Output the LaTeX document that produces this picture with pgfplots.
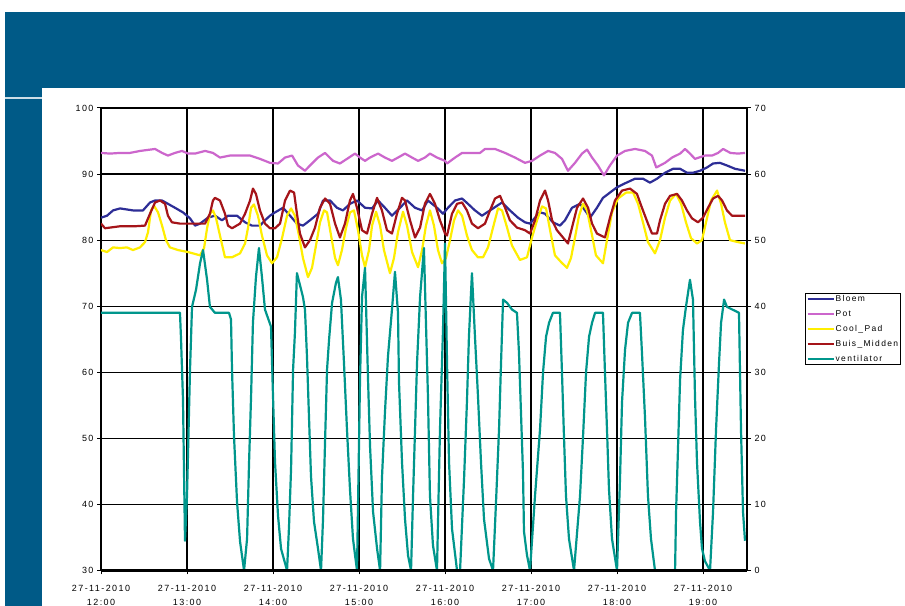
\documentclass[border=0pt]{standalone}
\usepackage{fontspec}
\setmainfont{Liberation Sans}
\newfontfamily\lsans[LetterSpace=16]{Liberation Sans}
\usepackage{pgfplots}
\pgfplotsset{compat=1.18}
\definecolor{band}{RGB}{0,90,135}
\definecolor{cBloem}{RGB}{45,45,150}
\definecolor{cPot}{RGB}{204,102,204}
\definecolor{cPad}{RGB}{255,238,0}
\definecolor{cBuis}{RGB}{165,20,25}
\definecolor{cVent}{RGB}{0,150,140}
\newcommand\ticklab{\lsans\fontsize{9}{14}\selectfont}
\newcommand\leglab{\lsans\fontsize{8.5}{9}\selectfont}
\begin{document}
\begin{tikzpicture}[x=1bp,y=1bp]
\useasboundingbox (0,0) rectangle (905,606);
\fill[white] (0,0) rectangle (905,606);
\fill[band] (5,518) rectangle (905,594);
\fill[band] (5,0) rectangle (42,518);
\draw[white!80!band, line width=1.5bp] (5,508) -- (42,508);
\begin{axis}[
  at={(101bp,35.5bp)}, anchor=south west,
  scale only axis, width=646bp, height=462.5bp,
  xmin=0, xmax=450.7, ymin=30, ymax=100,
  xtick={0,60,...,420},
  xticklabels={{27-11-2010\\12:00},{27-11-2010\\13:00},{27-11-2010\\14:00},{27-11-2010\\15:00},{27-11-2010\\16:00},{27-11-2010\\17:00},{27-11-2010\\18:00},{27-11-2010\\19:00}},
  xticklabel style={align=center, font=\ticklab, yshift=-7bp},
  ytick={30,40,...,100},
  yticklabel style={font=\ticklab},
  /pgf/number format/assume math mode=true,
  grid=major, major grid style={black, line width=1.2bp},
  axis line style={black, line width=1.2bp},
  tick style={black, line width=1bp},
  tick align=outside, major tick length=4bp,
  xtick pos=bottom, ytick pos=left,
  legend style={at={(1.0898,0.6)}, anchor=north west, draw=black, line width=0.8bp, fill=white,
    font=\leglab, inner xsep=1bp, inner ysep=1bp, row sep=6bp,
    nodes={inner sep=1bp, text height=6bp, text depth=1bp}},
  legend cell align=left,
  legend image code/.code={\draw[#1, line width=2.2bp] (0bp,0bp) -- (26bp,0bp);},
  every axis plot/.append style={line width=2.2bp, line join=round, mark=none},
]
\addplot[cBloem] coordinates {(0,83.4) (4.2,83.7) (8.4,84.5) (13.3,84.8) (22.3,84.5) (29.3,84.5) (34.2,85.7) (37.7,86.0) (42.6,86.0) (46.7,85.5) (51.6,84.9) (57.2,84.2) (62.1,83.3) (65.6,82.2) (69.1,82.5) (74.6,83.4) (79.5,83.7) (84.4,83.0) (88.6,83.7) (94.9,83.7) (100.5,82.7) (105.3,82.2) (110.9,82.2) (114.4,83.0) (117.9,83.7) (121.4,84.2) (127.0,84.9) (131.9,83.7) (136.7,82.5) (140.9,82.2) (145.8,83.0) (151.4,84.0) (154.9,86.0) (159.8,86.0) (164.6,84.9) (168.8,84.5) (173.7,85.5) (178.6,86.0) (184.2,84.9) (189.1,84.8) (193.3,86.0) (198.1,84.9) (203.0,83.7) (208.6,84.9) (213.5,86.0) (219.1,84.9) (224.0,84.5) (228.1,86.0) (234.4,84.9) (238.6,84.0) (242.1,84.9) (247.0,86.0) (251.9,86.3) (256.0,85.5) (260.9,84.5) (265.8,83.7) (271.4,84.5) (276.3,85.2) (279.8,85.7) (285.3,84.5) (290.9,83.4) (295.8,82.7) (299.3,82.5) (302.8,83.4) (306.3,84.2) (309.8,84.0) (315.3,82.7) (320.2,82.2) (323.7,83.0) (328.6,84.9) (334.2,85.5) (337.7,84.5) (341.2,83.4) (346.0,84.9) (350.2,86.4) (355.1,87.2) (360.0,88.0) (365.6,88.6) (372.6,89.3) (378.1,89.3) (383.0,88.7) (387.9,89.3) (393.5,90.2) (399.1,90.8) (404.0,90.8) (408.8,90.2) (413.0,90.2) (417.9,90.5) (422.8,91.0) (427.0,91.6) (431.8,91.7) (436.7,91.3) (442.3,90.8) (449.3,90.5)};
\addlegendentry{Bloem}
\addplot[cPot] coordinates {(0,93.2) (6.3,93.1) (13.3,93.2) (20.2,93.2) (27.2,93.5) (34.2,93.7) (37.7,93.8) (42.6,93.2) (46.7,92.8) (51.6,93.2) (56.5,93.5) (60.7,93.1) (65.6,93.1) (72.6,93.5) (78.1,93.2) (83.0,92.5) (90.0,92.8) (97.0,92.8) (104.0,92.8) (110.9,92.3) (117.9,91.7) (123.5,91.6) (128.4,92.5) (133.3,92.8) (137.4,91.3) (142.3,90.5) (145.8,91.3) (151.4,92.5) (156.3,93.2) (161.9,92.0) (166.7,91.6) (171.6,92.3) (177.2,93.1) (180.7,92.5) (184.2,92.0) (187.7,92.5) (193.3,93.1) (198.1,92.5) (203.0,92.0) (207.2,92.5) (212.1,93.1) (217.0,92.5) (221.2,92.0) (226.0,92.5) (229.5,93.1) (234.4,92.5) (240.0,92.0) (241.4,91.6) (247.0,92.5) (251.9,93.2) (257.4,93.2) (264.4,93.2) (267.9,93.8) (274.9,93.8) (281.9,93.2) (288.8,92.5) (295.8,91.7) (300.7,92.0) (306.3,92.8) (311.9,93.5) (316.7,93.2) (321.6,92.3) (325.8,90.5) (330.7,91.7) (335.6,93.1) (339.1,93.7) (342.6,92.5) (346.7,91.3) (350.9,89.8) (355.1,91.3) (360.0,92.8) (365.6,93.5) (372.6,93.8) (379.5,93.5) (384.4,92.8) (387.4,91.0) (393.5,91.7) (398.4,92.5) (404.0,93.1) (407.5,93.8) (410.9,93.1) (414.4,92.3) (421.4,92.8) (426.3,92.8) (430.5,93.2) (434.0,93.8) (439.1,93.2) (444.4,93.1) (449.3,93.2)};
\addlegendentry{Pot}
\addplot[cPad] coordinates {(0,78.5) (4.2,78.2) (8.4,78.9) (13.3,78.8) (18.1,78.9) (22.3,78.5) (27.2,78.9) (30.7,79.7) (32.8,81.2) (34.9,84.5) (37.0,85.2) (39.8,84.2) (42.6,82.2) (45.3,80.0) (48.1,78.9) (53.7,78.5) (60.7,78.2) (69.1,77.7) (71.9,78.8) (74.0,81.8) (76.0,84.0) (78.1,84.5) (80.2,83.4) (83.0,80.7) (86.5,77.4) (91.4,77.4) (97.0,78.0) (100.5,79.5) (102.6,81.9) (104.7,84.9) (106.7,85.4) (109.5,83.7) (112.3,80.7) (115.8,77.7) (119.3,76.5) (122.8,77.4) (126.3,80.3) (129.8,83.7) (132.6,84.8) (135.3,83.7) (138.1,80.7) (140.9,77.3) (144.4,74.4) (147.2,75.8) (150.0,79.2) (152.8,82.7) (155.6,84.5) (157.7,84.2) (160.5,80.7) (163.3,77.3) (165.3,76.2) (168.1,78.5) (170.9,81.8) (173.7,84.2) (176.5,84.5) (179.3,81.5) (182.1,77.7) (184.2,75.9) (187.0,78.5) (189.1,82.2) (191.9,84.3) (194.7,82.2) (197.4,78.5) (201.6,75.0) (204.4,77.3) (207.2,81.2) (210.7,84.3) (213.5,82.2) (217.0,78.2) (221.2,75.9) (224.0,78.5) (226.7,82.2) (229.5,84.5) (232.3,82.2) (235.1,78.5) (237.9,76.5) (240.7,77.3) (243.5,80.0) (246.3,83.0) (249.1,84.5) (251.9,83.7) (255.3,80.7) (258.8,78.5) (263.0,77.4) (266.5,77.4) (270.0,78.9) (273.5,81.9) (277.0,84.8) (279.8,84.5) (283.3,81.9) (286.7,79.2) (292.3,77.0) (297.2,77.4) (300.7,80.4) (304.2,83.0) (307.7,85.1) (310.5,84.8) (313.3,81.5) (316.7,77.7) (320.9,76.7) (325.1,75.8) (327.9,77.3) (330.7,80.4) (333.5,83.7) (336.3,85.5) (339.1,84.5) (341.9,81.5) (345.3,77.7) (350.2,76.5) (353.0,80.0) (356.5,84.2) (360.7,86.3) (366.3,87.2) (371.2,87.2) (374.7,85.5) (378.1,82.7) (381.6,79.7) (386.5,78.0) (390.0,80.0) (393.5,83.4) (397.0,86.0) (401.2,87.0) (404.7,85.5) (408.1,82.7) (411.6,80.3) (415.8,79.5) (419.3,80.0) (422.1,82.7) (425.6,86.0) (429.8,87.5) (432.6,85.5) (435.3,82.7) (438.8,80.0) (444.4,79.7) (449.3,79.5)};
\addlegendentry{Cool\_Pad}
\addplot[cBuis] coordinates {(0,82.5) (2.8,81.8) (6.3,81.9) (13.3,82.1) (23.7,82.1) (30.7,82.2) (34.2,84.0) (37.7,85.7) (41.2,86.0) (44.7,85.5) (46.7,83.7) (49.5,82.7) (55.1,82.5) (65.6,82.5) (72.6,82.5) (76.0,84.0) (78.1,86.0) (79.5,86.4) (83.0,86.0) (86.5,84.0) (88.6,82.2) (91.4,81.8) (97.0,82.5) (100.5,84.0) (104.0,86.0) (106.0,87.8) (108.1,87.0) (110.9,84.5) (114.4,82.5) (117.9,81.8) (121.4,81.8) (124.9,82.5) (128.4,86.0) (131.9,87.5) (134.7,87.2) (136.7,84.0) (138.8,81.0) (142.3,78.9) (145.8,80.0) (149.3,81.9) (152.8,84.9) (156.3,86.3) (159.8,85.5) (163.3,82.5) (166.7,80.4) (170.2,82.5) (173.7,86.0) (175.8,87.0) (178.6,84.9) (182.1,81.5) (185.6,81.0) (189.1,84.0) (192.6,86.4) (196.0,84.5) (199.5,81.5) (203.0,81.0) (206.5,84.0) (210.0,86.4) (212.1,86.0) (215.6,83.0) (219.1,80.4) (222.6,81.9) (226.0,85.5) (229.5,87.0) (233.0,85.5) (236.5,83.0) (240.0,81.0) (241.4,80.7) (244.9,84.0) (248.4,85.5) (251.9,85.7) (255.3,84.5) (258.8,82.5) (263.0,81.8) (267.9,82.5) (271.4,84.5) (274.9,86.3) (278.4,86.7) (281.9,84.9) (285.3,83.0) (290.2,81.9) (295.8,81.5) (299.3,81.0) (302.8,83.0) (306.3,86.0) (309.8,87.5) (311.9,86.0) (314.7,83.0) (318.1,81.5) (322.3,80.4) (325.8,79.5) (328.6,81.9) (332.1,84.9) (336.3,86.3) (339.8,84.9) (342.6,82.5) (346.0,81.0) (351.6,80.4) (355.1,83.4) (358.6,86.0) (363.5,87.5) (369.1,87.8) (373.9,87.0) (377.4,84.9) (381.6,82.5) (384.4,81.0) (387.9,81.0) (390.0,83.0) (393.5,85.5) (397.0,86.7) (401.9,87.0) (405.3,86.0) (408.8,84.5) (412.3,83.3) (416.5,82.7) (420.0,83.4) (423.5,84.9) (427.0,86.3) (430.5,86.7) (433.3,86.0) (436.7,84.5) (440.2,83.7) (449.3,83.7)};
\addlegendentry{Buis\_Midden}
\addlegendimage{cVent}
\addlegendentry{ventilator}
\end{axis}
\begin{axis}[
  at={(101bp,35.5bp)}, anchor=south west,
  scale only axis, width=646bp, height=462.5bp,
  xmin=0, xmax=450.7, ymin=0, ymax=70,
  axis x line*=bottom, axis y line*=right, axis on top,
  xtick=\empty,
  axis line style={black, line width=1.2bp},
  x axis line style={-, line width=2.4bp},
  y axis line style={-},
  ytick={0,10,...,70},
  yticklabel style={font=\ticklab},
  /pgf/number format/assume math mode=true,
  tick style={black, line width=1bp},
  tick align=outside, major tick length=4bp,
  every axis plot/.append style={line width=2.2bp, line join=round, mark=none},
]
\addplot[cVent] coordinates {(0,39) (55.1,39) (55.8,35.2) (57.2,25.9) (58.6,4.5) (60.0,11.3) (62.1,30.4) (63.5,39.9) (66.3,42.5) (69.1,46.5) (71.2,48.5) (74.0,44.0) (76.0,39.9) (79.5,39) (89.3,39) (90.7,38.0) (91.4,30.4) (92.8,20.3) (94.9,10.4) (97.0,4.4) (99.8,0) (101.9,4.8) (103.3,16.4) (104.7,26.4) (106.0,37.5) (108.1,44.4) (110.2,48.8) (112.3,44.4) (114.4,39.5) (118.6,36.9) (120.0,26.4) (121.4,16.4) (123.5,8.3) (125.6,3.3) (129.8,0) (131.2,6.8) (132.6,15.4) (134.0,30.4) (135.3,36.0) (136.7,45.0) (138.8,43.2) (140.9,41.4) (142.3,39.5) (143.7,32.4) (145.1,23.3) (146.5,14.3) (148.6,7.4) (151.4,3.3) (153.5,0) (154.9,7.8) (156.3,19.4) (157.7,30.4) (159.1,34.9) (161.2,40.5) (163.9,43.5) (165.3,44.4) (167.4,41.0) (169.5,31.5) (171.6,21.4) (173.7,12.3) (175.8,4.8) (178.6,0) (180.7,28.9) (182.1,41.4) (184.2,45.8) (186.3,28.9) (187.7,18.8) (189.8,8.9) (192.6,3.3) (194.7,0) (196.0,13.9) (198.1,23.9) (200.2,32.4) (203.0,39.5) (205.1,45.2) (207.2,39.0) (207.9,28.5) (210.0,16.4) (212.1,7.8) (214.2,2.3) (216.3,0) (217.7,11.3) (219.1,21.4) (220.5,31.5) (222.6,41.4) (225.3,48.8) (228.1,26.4) (229.5,11.3) (231.6,3.8) (234.4,0) (236.5,21.4) (238.6,36.4) (240.0,49.5) (241.4,31.5) (242.8,16.4) (244.9,6.3) (248.4,0) (250.5,0) (253.3,13.9) (255.3,25.5) (256.7,35.4) (258.8,45.0) (260.9,35.4) (263.0,26.4) (265.1,16.4) (267.2,7.8) (270.7,1.8) (273.5,0) (275.6,10.4) (277.7,21.4) (279.1,31.5) (280.5,41.0) (283.3,40.5) (286.7,39.5) (290.2,39.0) (291.6,33.0) (293.0,23.9) (294.4,14.9) (295.1,5.9) (297.2,2.3) (299.3,0) (302.8,11.3) (306.3,21.4) (308.4,30.0) (310.5,35.4) (312.6,37.5) (315.3,39.0) (320.2,39.0) (321.6,30.0) (323.0,20.3) (324.4,11.3) (326.5,4.8) (330.0,0) (334.2,11.3) (336.3,20.3) (338.4,30.0) (340.5,35.4) (342.6,37.5) (344.7,39.0) (350.2,39.0) (351.6,30.0) (353.0,21.4) (354.4,12.3) (356.5,4.8) (360.0,0) (362.1,13.9) (363.5,25.5) (365.6,33.4) (367.7,37.5) (370.5,39.0) (376.0,39.0) (377.4,33.0) (379.5,23.3) (381.6,11.3) (383.7,4.8) (386.5,0) (400.5,0) (401.2,8.9) (402.6,18.8) (404.0,28.9) (406.0,36.4) (408.1,39.9) (410.9,44.0) (413.0,41.0) (414.4,26.4) (415.8,16.4) (417.9,7.4) (419.3,3.3) (421.4,1.4) (424.9,0) (427.0,8.9) (429.1,21.4) (431.2,31.5) (432.6,37.5) (434.7,41.0) (436.7,39.9) (445.1,39.0) (446.5,21.4) (447.9,8.9) (449.3,4.5)};
\end{axis}
\end{tikzpicture}
\end{document}
